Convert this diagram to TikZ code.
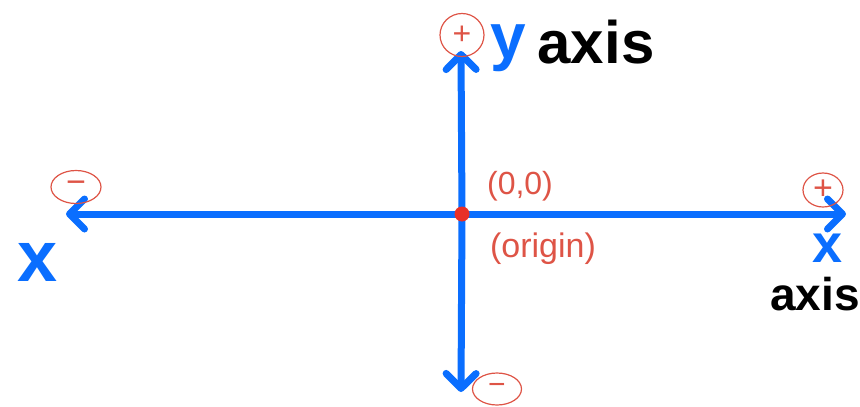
\documentclass[tikz,border=0pt]{standalone}
\usepackage{fontspec}
\setmainfont{Liberation Sans}
\usetikzlibrary{arrows.meta,shapes.geometric}
\definecolor{axblue}{RGB}{10,110,255}
\definecolor{sketchred}{RGB}{222,84,70}
\definecolor{dotred}{RGB}{232,48,40}
\begin{document}
\begin{tikzpicture}[x=1pt,y=-1pt,
  axisline/.style={draw=axblue,line width=7pt,line cap=round,
    -{Straight Barb[length=15pt,width=30pt,line width=7pt,line cap=round,line join=round]}},
  signmark/.style={ellipse,draw=sketchred,line width=1.2pt,text=sketchred,
    inner sep=0pt,font=\fontsize{#1}{#1}\selectfont},
  bluelabel/.style={text=axblue,font=\bfseries\fontsize{#1}{#1}\selectfont,inner sep=0pt},
  blacklabel/.style={text=black,font=\bfseries\fontsize{#1}{#1}\selectfont,inner sep=0pt},
  redlabel/.style={text=sketchred,font=\fontsize{#1}{#1}\selectfont,inner sep=0pt}]
\useasboundingbox (0,0) rectangle (860,407);
% axis ends
\coordinate (O) at (462,214);
\coordinate (L) at (66,214);
\coordinate (R) at (846,214);
\coordinate (T) at (461,51);
\coordinate (B) at (461,392);
\draw[axisline] (O) -- (L);
\draw[axisline] (O) -- (R);
\draw[axisline] (O) -- (T);
\draw[axisline] (O) -- (B);
\fill[dotred] (O) circle (7.5pt);
% sign circles
\node[signmark=32,minimum width=44pt,minimum height=43pt] (ptop) at (462,35) {+};
\node[signmark=34,minimum width=50pt,minimum height=33pt] (mleft) at (76,187) {−};
\node[signmark=34,minimum width=40pt,minimum height=34pt] (pright) at (823,190) {+};
\node[signmark=30,minimum width=49pt,minimum height=32pt] (mbot) at (497,389) {−};
% labels
\node[bluelabel=64] (ylab) at (508,48) {y};
\node[blacklabel=60] (yaxis) at (596,42) {axis};
\node[bluelabel=72] (xleft) at (38,262) {x};
\node[bluelabel=54] (xright) at (828,248) {x};
\node[blacklabel=46,anchor=east] (xaxis) at (860,294) {axis};
\node[redlabel=32] (zero) at (520,186) {(0,0)};
\node[redlabel=34] (orig) at (543,249) {(origin)};
\end{tikzpicture}
\end{document}
